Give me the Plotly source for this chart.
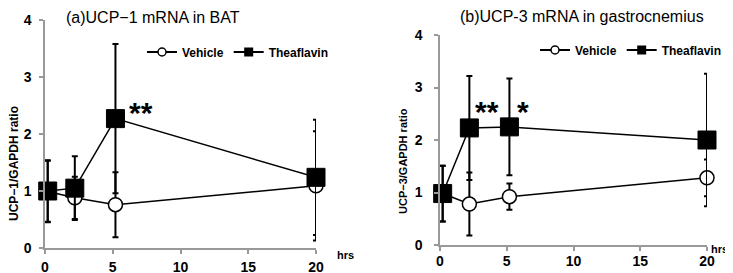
import plotly.graph_objects as go

hours_a = [0.2, 2.2, 5.2, 20]
veh_a = [0.99, 0.88, 0.76, 1.09]
veh_a_err = [0.54, 0.37, 0.57, 0.96]
tf_a = [1.00, 1.05, 2.27, 1.24]
tf_a_err = [0.54, 0.56, 1.31, 1.01]

hours_b = [0.2, 2.2, 5.2, 20]
veh_b = [0.98, 0.78, 0.92, 1.28]
veh_b_err = [0.53, 0.60, 0.25, 0.35]
tf_b = [0.98, 2.23, 2.25, 2.00]
tf_b_err = [0.53, 0.99, 0.92, 1.26]

x_ticks = [0, 5, 10, 15, 20]
y_ticks = [0, 1, 2, 3, 4]

FONT = "Liberation Sans, Arial, sans-serif"
TICKFONT = dict(family=FONT, size=14, color="black", weight="bold")

W, H = 733, 273
OFF = 8  # page margin around the plot div


def px(x):
    return (x - OFF) / W


def py(y):
    return 1 - (y - OFF) / H


fig = go.Figure()


def add_panel(xa, ya, hours, veh, veh_err, tf, tf_err, legend):
    fig.add_trace(go.Scatter(
        x=hours, y=veh, mode="lines+markers", xaxis=xa, yaxis=ya,
        line=dict(color="black", width=1.5),
        marker=dict(symbol="circle", size=14, color="white", line=dict(color="black", width=1.5)),
        error_y=dict(type="data", array=veh_err, visible=True, color="black", thickness=2, width=3),
        showlegend=False, cliponaxis=False))
    fig.add_trace(go.Scatter(
        x=hours, y=tf, mode="lines+markers", xaxis=xa, yaxis=ya,
        line=dict(color="black", width=1.5),
        marker=dict(symbol="square", size=18, color="black", line=dict(color="black", width=1)),
        error_y=dict(type="data", array=tf_err, visible=True, color="black", thickness=2, width=3),
        showlegend=False, cliponaxis=False))
    fig.add_trace(go.Scatter(
        x=[None], y=[None], mode="lines+markers", xaxis=xa, yaxis=ya, name="Vehicle",
        line=dict(color="black", width=2),
        marker=dict(symbol="circle", size=8, color="white", line=dict(color="black", width=1.5)),
        legend=legend))
    fig.add_trace(go.Scatter(
        x=[None], y=[None], mode="lines+markers", xaxis=xa, yaxis=ya, name="Theaflavin",
        line=dict(color="black", width=2),
        marker=dict(symbol="square", size=9, color="black"),
        legend=legend))


add_panel("x", "y", hours_a, veh_a, veh_a_err, tf_a, tf_a_err, "legend")
add_panel("x2", "y2", hours_b, veh_b, veh_b_err, tf_b, tf_b_err, "legend2")

axis_common = dict(showgrid=False, zeroline=False, showline=True, linecolor="#999999",
                   linewidth=1.5, ticks="outside", ticklen=4, tickcolor="#999999", tickwidth=1.5,
                   tickfont=TICKFONT, automargin=False)

fig.update_layout(
    width=W, height=H,
    margin=dict(l=0, r=0, t=0, b=0),
    paper_bgcolor="white", plot_bgcolor="white",
    xaxis=dict(domain=[px(45), px(316)], range=[0, 20], tickvals=x_ticks, anchor="y",
               ticklabelstandoff=1, **axis_common),
    yaxis=dict(domain=[py(248), py(20)], range=[0, 4], tickvals=y_ticks,
               ticklabelstandoff=5, anchor="x", **axis_common),
    xaxis2=dict(domain=[px(440), px(707)], range=[0, 20], tickvals=x_ticks, anchor="y2",
                ticklabelstandoff=-2, **axis_common),
    yaxis2=dict(domain=[py(245), py(35)], range=[0, 4], tickvals=y_ticks,
                ticklabelstandoff=9, anchor="x2", **axis_common),
    legend=dict(x=px(142), y=py(52), xanchor="left", yanchor="middle", orientation="h",
                bgcolor="rgba(0,0,0,0)", font=dict(family=FONT, size=12, color="black", weight="bold"),
                itemwidth=30, tracegroupgap=0),
    legend2=dict(x=px(535), y=py(50), xanchor="left", yanchor="middle", orientation="h",
                 bgcolor="rgba(0,0,0,0)", font=dict(family=FONT, size=12, color="black", weight="bold"),
                 itemwidth=30, tracegroupgap=0),
)

ann = [
    dict(text="(a)UCP\u22121 mRNA in BAT", x=153, y=18, size=16),
    dict(text="(b)UCP-3 mRNA in gastrocnemius", x=582, y=17, size=16),
    dict(text="hrs", x=345, y=255, size=11, weight="bold"),
    dict(text="hrs", x=719, y=249, size=11, weight="bold"),
    dict(text="**", x=141, y=113, size=30, weight="bold"),
    dict(text="**", x=487, y=111, size=30, weight="bold"),
    dict(text="*", x=523, y=111, size=30, weight="bold"),
]
for a in ann:
    fig.add_annotation(text=a["text"], x=px(a["x"]), y=py(a["y"]), xref="paper", yref="paper",
                       showarrow=False, xanchor="center", yanchor="middle",
                       font=dict(family=FONT, size=a["size"], color="black", weight=a.get("weight", "normal")))

fig.add_annotation(text="UCP\u22121/GAPDH ratio", x=px(14), y=py(164), xref="paper", yref="paper",
                   showarrow=False, textangle=-90, xanchor="center", yanchor="middle",
                   font=dict(family=FONT, size=12, color="black", weight="bold"))
fig.add_annotation(text="UCP\u22123/GAPDH ratio", x=px(403), y=py(161), xref="paper", yref="paper",
                   showarrow=False, textangle=-90, xanchor="center", yanchor="middle",
                   font=dict(family=FONT, size=11, color="black", weight="bold"))

fig.write_html("out.html")
